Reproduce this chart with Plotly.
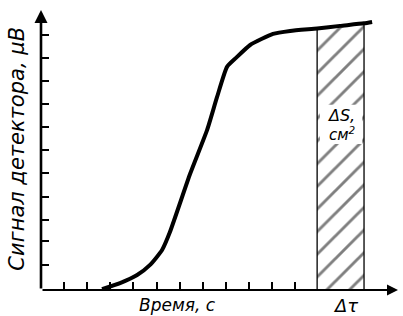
import plotly.graph_objects as go

# Curve (time in tick units, signal in tick units)
time_vals = [2.64, 3.42, 4.16, 4.72, 5.24, 5.58, 6.45, 7.19, 7.62, 8.05, 8.44, 9.05, 10.04, 10.78, 11.95, 12.94, 13.98, 14.33]
signal_vals = [0.04, 0.30, 0.65, 1.09, 1.74, 2.52, 5.04, 6.96, 8.39, 9.70, 10.09, 10.65, 11.13, 11.26, 11.37, 11.48, 11.59, 11.65]

x_ticks = [1, 2, 3, 4, 5, 6, 7, 8, 9, 10, 11]
y_ticks = [1.1, 2.15, 3.05, 4.05, 5.1, 6.1, 7.1, 8.1, 9.1, 10.1, 11.1]

# Hatched interval Δτ
dt_start = 11.95
dt_end = 13.98

x_max = 15.45
y_max = 12.17

# label of the hatched area (centre, in data units)
area_label_x = 13.03
area_label_y = 7.2

font_fam = "DejaVu Sans"

fig = go.Figure()

# hatched region bounded by the curve
hy_top = [s for t, s in zip(time_vals, signal_vals) if dt_start <= t <= dt_end]
poly_x = [dt_start] + [t for t in time_vals if dt_start <= t <= dt_end] + [dt_end]
poly_y = [0] + hy_top + [0]
fig.add_trace(go.Scatter(
    x=poly_x, y=poly_y, mode="lines", fill="toself",
    fillcolor="white",
    fillpattern=dict(shape="/", fgcolor="black", bgcolor="white", size=16, solidity=0.18),
    line=dict(color="black", width=1.3), hoverinfo="skip", showlegend=False))

fig.add_trace(go.Scatter(
    x=time_vals, y=signal_vals, mode="lines",
    line=dict(color="black", width=4, shape="spline", smoothing=0.5),
    showlegend=False, hoverinfo="skip"))

axis_common = dict(showgrid=False, zeroline=False, showticklabels=False,
                   ticks="inside", ticklen=8, tickwidth=1.5, tickcolor="black")
fig.update_xaxes(range=[0, x_max], tickvals=x_ticks, **axis_common)
fig.update_yaxes(range=[0, y_max], tickvals=y_ticks, **axis_common)

# axes with arrowheads
fig.add_annotation(x=x_max, y=0, ax=0, ay=0, xref="x", yref="y", axref="x", ayref="y",
                   showarrow=True, arrowhead=2, arrowsize=1, arrowwidth=2.2, arrowcolor="black", text="")
fig.add_annotation(x=0, y=y_max, ax=0, ay=0, xref="x", yref="y", axref="x", ayref="y",
                   showarrow=True, arrowhead=2, arrowsize=1, arrowwidth=2.6, arrowcolor="black", text="")

# white patch behind the area label (breaks the hatching)
fig.add_shape(type="rect", xref="x", yref="y", layer="above",
              x0=dt_start + 0.12, x1=dt_end - 0.08,
              y0=area_label_y - 0.85, y1=area_label_y + 0.85,
              fillcolor="white", line=dict(width=0))

fig.add_annotation(x=-0.067, y=0.505, xref="paper", yref="paper", text="Сигнал детектора, μВ",
                   textangle=-90, showarrow=False, xanchor="center", yanchor="middle",
                   font=dict(family=font_fam, size=21, color="black", style="italic"))
fig.add_annotation(x=0.381, y=-0.054, xref="paper", yref="paper", text="Время, с",
                   showarrow=False, xanchor="center", yanchor="middle",
                   font=dict(family=font_fam, size=17, color="black", style="italic"))
fig.add_annotation(x=0.854, y=-0.054, xref="paper", yref="paper", text="Δτ",
                   showarrow=False, xanchor="center", yanchor="middle",
                   font=dict(family=font_fam, size=18, color="black", style="italic"))
fig.add_annotation(x=area_label_x - 0.05, y=area_label_y + 0.4, xref="x", yref="y", text="ΔS,",
                   showarrow=False, xanchor="center", yanchor="middle",
                   font=dict(family=font_fam, size=16, color="black", style="italic"))
fig.add_annotation(x=area_label_x, y=area_label_y - 0.4, xref="x", yref="y", text="см<sup>2</sup>",
                   showarrow=False, xanchor="center", yanchor="middle",
                   font=dict(family=font_fam, size=15, color="black", style="italic"))

fig.update_layout(width=403, height=316,
                  margin=dict(l=41, r=5, t=10, b=26, autoexpand=False),
                  plot_bgcolor="white", paper_bgcolor="white", showlegend=False)

fig.write_html("out.html", config={"displayModeBar": False},
               post_script="document.body.style.margin='0px';")
